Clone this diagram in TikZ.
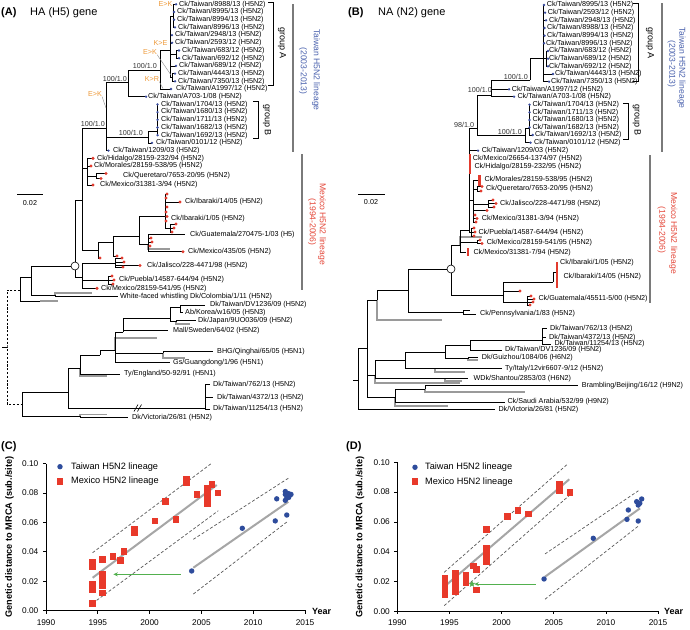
\documentclass[tikz,border=0pt]{standalone}
\usepackage{fontspec}
\setmainfont{Liberation Sans}
\usetikzlibrary{shapes.geometric,arrows.meta}
\definecolor{twblue}{HTML}{3A4C9E}
\definecolor{mxred}{HTML}{E23B2E}
\definecolor{mutor}{HTML}{EE9A3A}
\definecolor{linblue}{HTML}{4A62AE}
\definecolor{linred}{HTML}{E5483A}
\definecolor{grn}{HTML}{52B04E}
\definecolor{barg}{HTML}{7A7A7A}
\definecolor{brg}{HTML}{9A9A9A}
\definecolor{ptblue}{HTML}{2E4C9C}
\definecolor{ptred}{HTML}{E8392A}
\pgfdeclarelayer{back}\pgfdeclarelayer{bg}\pgfdeclarelayer{front}
\pgfsetlayers{back,bg,main,front}
\tikzset{
 br/.style={line width=0.6pt,black},
 gbr/.style={line width=1.2pt,brg},
 lf/.style={anchor=west,inner sep=0pt,font=\fontsize{7.2}{8}\selectfont},
 bs/.style={anchor=east,inner sep=0pt,font=\fontsize{7.2}{8}\selectfont,text=black!80},
 mut/.style={inner sep=0pt,font=\fontsize{7.2}{8}\selectfont,text=mutor},
 ttl/.style={anchor=west,inner sep=0pt,font=\fontsize{11}{13}\selectfont},
 grp/.style={inner sep=0pt,rotate=-90,font=\fontsize{9}{10}\selectfont},
 lin/.style={inner sep=0pt,rotate=-90,font=\fontsize{8.6}{10}\selectfont},
 lbar/.style={line width=1.8pt,barg},
 dsh/.style={line width=0.6pt,dash pattern=on 2.2pt off 1.6pt},
 rbar/.style={line width=2.8pt,mxred},
 axl/.style={line width=0.8pt,black},
 tkl/.style={inner sep=0pt,font=\fontsize{8.3}{10}\selectfont},
 regl/.style={line width=2pt,black!35},
 regd/.style={line width=0.7pt,black!65,dash pattern=on 3pt off 2pt},
 ytl/.style={inner sep=0pt,rotate=90,font=\bfseries\fontsize{9.2}{11}\selectfont},
 leg/.style={anchor=west,inner sep=0pt,font=\fontsize{9.2}{11}\selectfont},
 garr/.style={line width=0.8pt,grn,-{Stealth[length=4.5pt,width=4pt]}},
 ldr/.style={line width=0.4pt,black!45},
}
\newcommand\trI[4]{\coordinate (#2) at (#3,#4);\draw[br] (#1) |- (#2);}
\newcommand\trB[6]{\coordinate (#2) at (#3,#4);\draw[br] (#1) |- (#2);\begin{pgfonlayer}{front}\fill[twblue] (#2) circle (1.3);\end{pgfonlayer}\node[lf] (#2t) at (#5,#4) {#6};}
\newcommand\trR[6]{\coordinate (#2) at (#3,#4);\draw[br] (#1) |- (#2);\begin{pgfonlayer}{front}\fill[mxred] (#2) circle (1.7);\end{pgfonlayer}\node[lf] (#2t) at (#5,#4) {#6};}
\newcommand\trK[6]{\coordinate (#2) at (#3,#4);\draw[br] (#1) |- (#2);\node[lf] (#2t) at (#5,#4) {#6};}
\newcommand\trRd[4]{\coordinate (#2) at (#3,#4);\draw[br] (#1) |- (#2);\begin{pgfonlayer}{front}\fill[mxred] (#2) circle (1.7);\end{pgfonlayer}}
\newcommand\trG[4]{\coordinate (#2) at (#3,#4);\begin{pgfonlayer}{bg}\draw[gbr] (#1) |- (#2);\end{pgfonlayer}}
\newcommand\plsetC{\def\plox{46}\def\ploy{610.7}\def\plsx{10.36}\def\plsy{1472}}
\newcommand\plsetD{\def\plox{397.3}\def\ploy{611.3}\def\plsx{10.43}\def\plsy{1490}}
\newcommand\tpt[2]{\fill[ptblue] ({\plox+\plsx*(#1)},{\ploy-\plsy*(#2)}) circle (2.7);}
\newcommand\msq[2]{\fill[ptred] ({\plox+\plsx*(#1)-3.4},{\ploy-\plsy*(#2)-3.4}) rectangle +(6.8,6.8);}
\newcommand\mtall[3]{\fill[ptred] ({\plox+\plsx*(#1)-3.4},{\ploy-\plsy*(#3)-3.4}) rectangle ({\plox+\plsx*(#1)+3.4},{\ploy-\plsy*(#2)+3.4});}
\newcommand\rl[5]{\draw[#1] ({\plox+\plsx*(#2)},{\ploy-\plsy*(#3)}) -- ({\plox+\plsx*(#4)},{\ploy-\plsy*(#5)});}
\begin{document}
\begin{tikzpicture}[x=1pt,y=-1pt]
\begin{pgfonlayer}{back}
\fill[white] (0,0) rectangle (690,629);
\end{pgfonlayer}
\useasboundingbox (0,0) rectangle (690,629);

% ================= PANEL A =================
\node[ttl,font=\bfseries\fontsize{11}{13}\selectfont] (tA) at (1,13) {(A)};
\node[ttl] (tA2) at (30,13) {HA (H5) gene};

\coordinate (aP) at (82,200);
\trI{aP}{aT}{106}{128}
\trI{aT}{aGA0}{128}{82}
\trI{aGA0}{aGA1}{160}{70}
\trB{aGA0}{aL703}{146}{96.7}{148}{Ck/Taiwan/A703-1/08 (H5N2)}
\trI{aGA1}{aGA2}{170}{50}
\trB{aGA1}{aL1997}{171}{89}{176}{Ck/Taiwan/A1997/12 (H5N2)}
\trI{aGA2}{aGA3}{173}{16}
\trB{aGA3}{aL8988}{176}{4.3}{179}{Ck/Taiwan/8988/13 (H5N2)}
\trB{aGA3}{aL8995}{174}{12}{177}{Ck/Taiwan/8995/13 (H5N2)}
\trB{aGA3}{aL8994}{174}{19.7}{177}{Ck/Taiwan/8994/13 (H5N2)}
\trB{aGA3}{aL8996}{175}{27.4}{178}{Ck/Taiwan/8996/13 (H5N2)}
\trB{aGA2}{aL2948}{172}{35.1}{175}{Ck/Taiwan/2948/13 (H5N2)}
\trB{aGA2}{aL2593}{172}{42.8}{175}{Ck/Taiwan/2593/12 (H5N2)}
\trI{aGA2}{aGA5}{176.5}{54}
\trB{aGA5}{aL683}{179}{50.5}{182}{Ck/Taiwan/683/12 (H5N2)}
\trB{aGA5}{aL692}{179}{58.2}{182}{Ck/Taiwan/692/12 (H5N2)}
\trB{aGA2}{aL689}{176}{65.9}{179}{Ck/Taiwan/689/12 (H5N2)}
\trI{aGA2}{aGA6}{172.5}{77}
\trB{aGA6}{aL4443}{175}{73.6}{178}{Ck/Taiwan/4443/13 (H5N2)}
\trB{aGA6}{aL7350}{175}{81.3}{178}{Ck/Taiwan/7350/13 (H5N2)}
\trI{aT}{aGB0}{148}{137}
\trI{aGB0}{aGB1}{157}{131}
\trB{aGB1}{aL1704}{157.5}{104.4}{161}{Ck/Taiwan/1704/13 (H5N2)}
\trB{aGB1}{aL1680}{157.5}{112.1}{161}{Ck/Taiwan/1680/13 (H5N2)}
\trB{aGB1}{aL1711}{157.5}{119.8}{161}{Ck/Taiwan/1711/13 (H5N2)}
\trB{aGB1}{aL1682}{157.5}{127.5}{161}{Ck/Taiwan/1682/13 (H5N2)}
\trB{aGB1}{aL1692}{157.5}{135.2}{161}{Ck/Taiwan/1692/13 (H5N2)}
\trB{aGB0}{aL0101}{152}{142.9}{156}{Ck/Taiwan/0101/12 (H5N2)}
\trB{aT}{aL1209}{108.5}{150.6}{113}{Ck/Taiwan/1209/03 (H5N2)}

% support values and mutations
\node[bs] (aS1) at (105,124) {100/1.0};
\node[bs] (aS2) at (143,133) {100/1.0};
\node[bs] (aS3) at (127,79) {100/1.0};
\node[bs] (aS4) at (157,66) {100/1.0};
\node[mut] (aM1k) at (165.5,4) {E>K};
\node[mut] (aM2k) at (160.5,42.7) {K>E};
\node[mut] (aM3k) at (150,52) {E>K};
\node[mut] (aM4k) at (152,79) {K>R};
\node[mut] (aM5k) at (95,94) {E>K};
\coordinate (aM3p) at (171,75);
\coordinate (aM4p) at (163,88.5);
\coordinate (aM5p) at (106,108);
\draw[ldr] (aM3k.south east) -- (aM3p);
\draw[ldr] (aM4k.south east) -- (aM4p);
\draw[ldr] (aM5k.south east) -- (aM5p);

% Mexico lineage A
\coordinate (aC) at (75,266);
\draw[br] (aC) |- (aP);
\trI{aP}{aM1}{87}{168}
\trR{aM1}{aLHid}{93}{158.3}{97}{Ck/Hidalgo/28159-232/94 (H5N2)}
\trR{aM1}{aLMor}{91}{166}{94}{Ck/Morales/28159-538/95 (H5N2)}
\trI{aM1}{aQ}{96}{176}
\trRd{aQ}{aQd1}{106}{173.5}
\trRd{aQ}{aQd2}{101}{178.5}
\node[lf] (aLQue) at (123,175.7) {Ck/Queretaro/7653-20/95 (H5N2)};
\trR{aM1}{aL3138}{93}{185}{100}{Ck/Mexico/31381-3/94 (H5N2)}
\trI{aP}{aIB0}{98}{250}
\trRd{aIB0}{aIBd1}{100}{258}
\trI{aIB0}{aIB1}{113}{242}
\trRd{aIB1}{aIBd2}{117}{256}
\trI{aIB1}{aIB2}{139}{236}
\trI{aIB2}{aIB3}{165}{216}
\trRd{aIB3}{aIBd3}{167}{194}
\trRd{aIB3}{aIBd4}{166}{198}
\trRd{aIB3}{aIBd5}{167}{207}
\trR{aIB3}{aLIb14}{180}{202}{185}{Ck/Ibaraki/14/05 (H5N2)}
\trRd{aIB3}{aIBd6}{166}{212}
\trRd{aIB3}{aIBd7}{167}{216.5}
\node[lf] (aLIb1) at (171,218.3) {Ck/Ibaraki/1/05 (H5N2)};
\trRd{aIB3}{aIBd8}{166}{221}
\trI{aIB3}{aIB4}{170}{228}
\trRd{aIB4}{aIBd9}{176}{224}
\trRd{aIB4}{aIBd10}{174}{228}
\trRd{aIB4}{aIBd11}{172}{232}
\trI{aIB2}{aGU}{148}{244}
\trRd{aGU}{aGUd1}{151}{238}
\trRd{aGU}{aGUd2}{152}{242}
\trRd{aGU}{aGUd3}{150}{246}
\trK{aGU}{aLGua}{185}{234.3}{190}{Ck/Guatemala/270475-1/03 (H5)}
\trR{aGU}{aLM435}{183}{251.7}{188}{Ck/Mexico/435/05 (H5N2)}
\trG{aGU}{aGUg}{170}{249}
\trI{aC}{aJ}{82}{277}
\trI{aJ}{aJ1}{115}{263}
\trRd{aJ1}{aJd1}{122}{258}
\trRd{aJ1}{aJd2}{124}{262}
\trRd{aJ1}{aJd3}{123}{267}
\trR{aJ1}{aLJal}{140}{265.5}{147}{Ck/Jalisco/228-4471/98 (H5N2)}
\trI{aJ}{aPu}{108}{280}
\trRd{aPu}{aPud1}{112}{276}
\trRd{aPu}{aPud2}{114}{280}
\trRd{aPu}{aPud3}{113}{284}
\node[lf] (aLPue) at (119,279.3) {Ck/Puebla/14587-644/94 (H5N2)};
\trR{aJ}{aL541}{97}{288.3}{101}{Ck/Mexico/28159-541/95 (H5N2)}

% White-faced and root
\coordinate (aU) at (20,290);
\trI{aU}{aW1}{31}{277}
\draw[br] (aW1) |- (aC);
\trI{aW1}{aWF}{55}{295}
\trG{aWF}{aWFg}{92}{293}
\trK{aWF}{aLWF}{118}{296.5}{120}{White-faced whistling Dk/Colombia/1/11 (H5N2)}
\trI{aU}{aUb}{40}{301}
\trG{aUb}{aUg}{58}{301}
\coordinate (aR) at (7,347);
\coordinate (aL) at (22,404);
\draw[dsh] (aU) -| (aR) |- (aL);
\draw[br] (aR) -- ++(-5,0);

% Eurasian A
\trI{aL}{aE0}{68}{392}
\trI{aE0}{aE1}{80}{368}
\trI{aE1}{aE2}{100}{355}
\trI{aE2}{aE3}{115}{350}
\trI{aE3}{aE4}{123}{332}
\trI{aE4}{aK0}{170}{318}
\trI{aK0}{aK1}{180}{307}
\trK{aK1}{aLDV}{205}{305}{210}{Dk/Taiwan/DV1236/09 (H5N2)}
\trK{aK1}{aLKor}{183}{312.7}{185}{Ab/Korea/w16/05 (H5N3)}
\trI{aK0}{aK2}{176}{321}
\trK{aK2}{aLJap}{196}{320.7}{198}{Dk/Japan/9UO036/09 (H5N2)}
\trG{aK2}{aK2g}{190}{324}
\trK{aE4}{aLSwe}{168}{330.7}{173}{Mall/Sweden/64/02 (H5N2)}
\trG{aE3}{aE3g}{157}{338}
\trI{aE3}{aBH}{163}{353}
\trK{aBH}{aLBHG}{213}{351.7}{217}{BHG/Qinghai/65/05 (H5N1)}
\trG{aBH}{aBHg}{185}{358}
\trI{aE3}{aGs}{163}{362}
\trK{aGs}{aLGs}{170}{362.3}{173}{Gs/Guangdong/1/96 (H5N1)}
\trK{aE1}{aLTy}{120}{374}{124}{Ty/England/50-92/91 (H5N1)}
\trG{aE1}{aE1g}{107}{376}
\trI{aE0}{aTW}{205}{408}
\trK{aTW}{aL762}{210}{384.3}{213}{Dk/Taiwan/762/13 (H5N2)}
\trK{aTW}{aL4372}{213}{397.3}{217}{Dk/Taiwan/4372/13 (H5N2)}
\trK{aTW}{aL11254}{210}{409}{213}{Dk/Taiwan/11254/13 (H5N2)}
\trI{aL}{aV0}{80}{416}
\trK{aV0}{aLVic}{128}{417.3}{132}{Dk/Victoria/26/81 (H5N2)}
\trG{aV0}{aV0g}{107}{414.5}
\draw[br] (134,411.5) -- (138,404.5) (137.5,411.5) -- (141.5,404.5);

\begin{pgfonlayer}{front}
\draw[br,fill=white] (aC) circle (4);
\end{pgfonlayer}

% scale bar A
\draw[br] (17,194) -- (43,194);
\node[lf,anchor=center] (aSc) at (30,203) {0.02};

% brackets and lineage bars A
\draw[br] (268,2) -- (273,2) -- (273,85) -- (268,85);
\node[grp] (aGrA) at (282,43) {group A};
\draw[br] (253,101.7) -- (258,101.7) -- (258,138) -- (253,138);
\node[grp] (aGrB) at (267,120) {group B};
\draw[lbar] (293,4) -- (293,152);
\draw[lbar] (302,154) -- (302,290);
\node[lin,text=linblue] (aLinT1) at (316,70) {Taiwan H5N2 lineage};
\node[lin,text=linblue] (aLinT2) at (303,71) {(2003-2013)};
\node[lin,text=linred] (aLinM1) at (322,224) {Mexico H5N2 lineage};
\node[lin,text=linred] (aLinM2) at (312,222) {(1994-2006)};

% ================= PANEL B =================
\node[ttl,font=\bfseries\fontsize{11}{13}\selectfont] (tB) at (348,13) {(B)};
\node[ttl] (tB2) at (378,13) {NA (N2) gene};

\coordinate (bRB) at (358,380);
\draw[br] (bRB) -- ++(-5,0);
\trI{bRB}{bN1}{367}{348}
\trK{bRB}{bLVic}{495}{409.3}{498.3}{Dk/Victoria/26/81 (H5N2)}
\trI{bN1}{bN2}{377}{300}
\trI{bN2}{bPN}{408}{290}
\trG{bN2}{bN2g}{442}{320}
\coordinate (bC) at (451,269);
\draw[br] (bPN) |- (bC);
\trI{bPN}{bPe}{463}{312}
\trI{bPe}{bPe1}{470}{310.5}
\trK{bPe}{bLPen}{476}{314}{480}{Ck/Pennsylvania/1/83 (H5N2)}

% Mexico + Taiwan B
\trI{bC}{bMB1}{460}{245}
\trI{bMB1}{bMT}{469}{230}
\trI{bMT}{bTB1}{477}{128}
\trI{bTB1}{bTA}{491.7}{95}
\trI{bTA}{bGAB}{530}{80}
\trI{bGAB}{bGA2}{543}{58}
\trB{bGA2}{bL8995}{544}{5}{546.7}{Ck/Taiwan/8995/13 (H5N2)}
\trB{bGA2}{bL2593}{545}{12.7}{547.7}{Ck/Taiwan/2593/12 (H5N2)}
\trB{bGA2}{bL2948}{546}{20.3}{549}{Ck/Taiwan/2948/13 (H5N2)}
\trB{bGA2}{bL8988}{544.5}{28}{547}{Ck/Taiwan/8988/13 (H5N2)}
\trB{bGA2}{bL8994}{544.5}{35.7}{547}{Ck/Taiwan/8994/13 (H5N2)}
\trB{bGA2}{bL8996}{544}{43.3}{546}{Ck/Taiwan/8996/13 (H5N2)}
\trI{bGA2}{bGA7}{546}{58.7}
\trB{bGA7}{bL683}{548}{51}{549}{Ck/Taiwan/683/12 (H5N2)}
\trB{bGA7}{bL689}{548}{58.7}{549}{Ck/Taiwan/689/12 (H5N2)}
\trB{bGA7}{bL692}{548}{66.3}{549}{Ck/Taiwan/692/12 (H5N2)}
\trB{bGA2}{bL4443}{553}{74}{555}{Ck/Taiwan/4443/13 (H5N2)}
\trB{bGA2}{bL7350}{549}{81.7}{551}{Ck/Taiwan/7350/13 (H5N2)}
\trB{bTA}{bL1997}{509}{89.3}{511.7}{Ck/Taiwan/A1997/12 (H5N2)}
\trB{bTA}{bL703}{514}{96.7}{517.3}{Ck/Taiwan/A703-1/08 (H5N2)}
\trI{bTB1}{bGBB}{525}{135}
\trI{bGBB}{bGB1}{529}{128}
\trB{bGB1}{bL1704}{529.5}{104.7}{532.3}{Ck/Taiwan/1704/13 (H5N2)}
\trB{bGB1}{bL1711}{529.5}{112.3}{532.3}{Ck/Taiwan/1711/13 (H5N2)}
\trB{bGB1}{bL1680}{529.5}{120}{532.3}{Ck/Taiwan/1680/13 (H5N2)}
\trB{bGB1}{bL1682}{529.5}{127.3}{532.3}{Ck/Taiwan/1682/13 (H5N2)}
\trB{bGB1}{bL1692}{532.7}{135}{535}{Ck/Taiwan/1692/13 (H5N2)}
\trB{bGBB}{bL0101}{530.5}{142.7}{534}{Ck/Taiwan/0101/12 (H5N2)}
\trB{bMT}{bL1209}{478}{150.7}{481.7}{Ck/Taiwan/1209/03 (H5N2)}
\node[bs] (bS1) at (528,77) {100/1.0};
\node[bs] (bS2) at (492,90) {100/1.0};
\node[bs] (bS3) at (522,131.7) {100/1.0};
\node[bs] (bS4) at (474.3,125) {98/1.0};

\draw[rbar] (470,154) -- (470,174);
\node[lf] (bLMx26) at (472.7,158.3) {Ck/Mexico/26654-1374/97 (H5N2)};
\node[lf] (bLHid) at (474.3,166.7) {Ck/Hidalgo/28159-232/95 (H5N2)};
\trI{bMT}{bMB3}{473}{200}
\trI{bMB3}{bMo}{478}{180}
\draw[rbar] (479.5,175) -- (479.5,186);
\node[lf] (bLMor) at (484.3,179.3) {Ck/Morales/28159-538/95 (H5N2)};
\trI{bMB3}{bQu}{477}{189}
\trRd{bQu}{bQu1}{482}{186.5}
\trRd{bQu}{bQu2}{481}{191}
\node[lf] (bLQue) at (486,188.3) {Ck/Queretaro/7653-20/95 (H5N2)};
\trI{bMB3}{bJa}{488}{204}
\trRd{bJa}{bJa1}{493}{200}
\trRd{bJa}{bJa2}{496}{203.5}
\trRd{bJa}{bJa3}{494}{207}
\trRd{bMB3}{bJa4}{487}{210.5}
\node[lf] (bLJal) at (500,204) {Ck/Jalisco/228-4471/98 (H5N2)};
\trRd{bMB3}{bM3a}{475}{215}
\trRd{bMB3}{bM3b}{477}{218.5}
\trRd{bMB3}{bM3c}{476}{222}
\node[lf] (bLM3) at (481.7,218.3) {Ck/Mexico/31381-3/94 (H5N2)};
\trI{bMT}{bPu}{471}{232}
\trRd{bPu}{bPu1}{474}{228}
\trRd{bPu}{bPu2}{475}{232}
\trRd{bPu}{bPu3}{474}{236}
\node[lf] (bLPue) at (478.3,232.7) {Ck/Puebla/14587-644/94 (H5N2)};
\trG{bMB1}{bMBg}{482}{237}
\trI{bMB1}{b541}{477}{242}
\trRd{b541}{b541a}{480}{240}
\trRd{b541}{b541b}{482}{243.5}
\node[lf] (bL541) at (486.7,242.3) {Ck/Mexico/28159-541/95 (H5N2)};
\trI{bMB1}{b317}{466}{252}
\draw[rbar] (468,248) -- (468,256);
\node[lf] (bL317) at (473.3,252.7) {Ck/Mexico/31381-7/94 (H5N2)};

\trI{bC}{bMB5}{503}{295}
\trI{bMB5}{bIB}{553}{282}
\trI{bIB}{bIB1}{557}{272}
\draw[rbar] (557,262) -- (557,288);
\node[lf] (bLIb1) at (560,262.7) {Ck/Ibaraki/1/05 (H5N2)};
\node[lf] (bLIb14) at (563.3,276.7) {Ck/Ibaraki/14/05 (H5N2)};
\trRd{bMB5}{bMd}{520}{291}
\trI{bMB5}{bGU}{527}{302}
\trRd{bGU}{bGU1}{531}{296}
\trRd{bGU}{bGU2}{534}{299}
\trRd{bGU}{bGU3}{533}{302}
\trRd{bGU}{bGU4}{530}{305}
\node[lf] (bLGua) at (538.3,298.3) {Ck/Guatemala/45511-5/00 (H5N2)};

\begin{pgfonlayer}{front}
\draw[br,fill=white] (bC) circle (4);
\end{pgfonlayer}

% Eurasian B
\trI{bN1}{bEU}{375}{375}
\trI{bEU}{bE1}{405}{360}
\trI{bE1}{bE2}{445}{352}
\trI{bE2}{bE3}{470}{345}
\trI{bE3}{bDV}{542}{340}
\trK{bDV}{bL762}{547}{328.3}{550}{Dk/Taiwan/762/13 (H5N2)}
\trK{bDV}{bL4372}{546}{337.7}{549}{Dk/Taiwan/4372/13 (H5N2)}
\trK{bDV}{bL11254}{551}{344}{554.3}{Dk/Taiwan/11254/13 (H5N2)}
\trK{bE3}{bLDV}{502}{350}{505}{Dk/Taiwan/DV1236/09 (H5N2)}
\trI{bE2}{bGZ}{468}{358}
\trK{bGZ}{bLGz}{478}{357.7}{481.7}{Dk/Guizhou/1084/06 (H6N2)}
\trG{bGZ}{bGZg}{478}{360}
\trI{bE1}{bIT}{435}{368}
\trK{bIT}{bLIt}{502}{368.3}{505}{Ty/Italy/12vir6607-9/12 (H5N2)}
\trG{bIT}{bITg}{465}{372}
\trI{bEU}{bWD}{445}{378}
\trK{bWD}{bLWD}{468}{378.3}{473.3}{WDk/Shantou/2853/03 (H6N2)}
\trG{bWD}{bWDg}{462}{381}
\trG{bEU}{bEUg}{460}{383}
\trI{bN1}{bBS}{395}{397}
\trI{bBS}{bBR}{425}{389}
\trK{bBR}{bLBr}{578}{385.7}{581.7}{Brambling/Beijing/16/12 (H9N2)}
\trG{bBR}{bBRg}{525}{392}
\trI{bBS}{bSA}{452}{401.8}
\trK{bSA}{bLSa}{505}{401.8}{507.3}{Ck/Saudi Arabia/532/99 (H9N2)}
\trG{bBS}{bBSg}{448}{406}

% scale bar B
\draw[br] (358,194) -- (385,194);
\node[lf,anchor=center] (bSc) at (371,201.7) {0.02};

% brackets and lineage bars B
\draw[br] (633,3) -- (638.3,3) -- (638.3,81) -- (633,81);
\node[grp] (bGrA) at (650,43) {group A};
\draw[br] (623,103) -- (628.3,103) -- (628.3,139) -- (623,139);
\node[grp] (bGrB) at (636.7,120) {group B};
\draw[lbar] (661.7,3) -- (661.7,152);
\draw[lbar] (650,155) -- (650,303);
\node[lin,text=linblue] (bLinT1) at (681.7,68) {Taiwan H5N2 lineage};
\node[lin,text=linblue] (bLinT2) at (671.7,64) {(2003-2013)};
\node[lin,text=linred] (bLinM1) at (673.3,233) {Mexico H5N2 lineage};
\node[lin,text=linred] (bLinM2) at (661.7,230) {(1994-2006)};

% ================= PANEL C =================
\node[ttl,font=\bfseries\fontsize{11}{13}\selectfont] (tC) at (1,447) {(C)};
\draw[axl] (46,463.5) -- (46,610.7) -- (306,610.7);
\foreach \i/\l in {0/0.00,1/0.02,2/0.04,3/0.06,4/0.08,5/0.10}{
  \draw[axl] (46,{610.7-29.44*\i}) -- ++(-3,0);
  \node[tkl,anchor=east] (cyl\i) at (38.5,{610.7-29.44*\i}) {\l};}
\foreach \i in {0,...,5}{
  \pgfmathtruncatemacro\yr{1990+5*\i}
  \draw[axl] ({46+51.8*\i},610.7) -- ++(0,3);
  \node[tkl] (cxl\i) at ({46+51.8*\i},622.7) {\yr};}
\node[inner sep=0pt,anchor=west,font=\bfseries\fontsize{9}{11}\selectfont] (cYr) at (312,611) {Year};
\node[ytl] (cYt) at (9.5,537) {Genetic distance to MRCA (sub./site)};
\fill[ptblue] (60,466.7) circle (2.7);
\node[leg] (cLg1) at (71,466.7) {Taiwan H5N2 lineage};
\fill[ptred] (56.6,477.9) rectangle +(6.8,6.8);
\node[leg] (cLg2) at (71,481.5) {Mexico H5N2 lineage};
\plsetC
\rl{regl}{4.5}{0.0224}{16.48}{0.0854}
\rl{regd}{4.5}{0.0394}{15.9}{0.0997}
\rl{regd}{4.5}{0.005}{16.63}{0.0679}
\rl{regl}{14.22}{0.0292}{23.39}{0.074}
\rl{regd}{14.22}{0.0485}{23.39}{0.09}
\rl{regd}{14.22}{0.0113}{23.29}{0.0605}
\msq{4.47}{0.005}
\mtall{4.47}{0.014}{0.018}
\mtall{4.47}{0.030}{0.033}
\msq{5.47}{0.012}
\mtall{5.47}{0.017}{0.025}
\msq{5.47}{0.035}
\msq{6.47}{0.037}
\msq{7.21}{0.034}
\msq{7.53}{0.040}
\mtall{8.52}{0.053}{0.055}
\msq{10.52}{0.061}
\msq{11.55}{0.074}
\msq{12.55}{0.062}
\mtall{13.58}{0.087}{0.089}
\msq{14.58}{0.079}
\mtall{15.57}{0.073}{0.083}
\msq{16.02}{0.086}
\msq{16.6}{0.080}
\tpt{14.06}{0.027}
\tpt{18.95}{0.056}
\tpt{22.13}{0.061}
\tpt{22.27}{0.076}
\tpt{23.1}{0.081}\tpt{23.1}{0.079}\tpt{23.1}{0.075}
\tpt{23.24}{0.065}\tpt{23.24}{0.0765}
\tpt{23.43}{0.077}\tpt{23.43}{0.0795}
\tpt{23.65}{0.079}
\coordinate (gCa) at ({\plox+\plsx*13.03},{\ploy-\plsy*0.0247});
\coordinate (gCb) at ({\plox+\plsx*6.5},{\ploy-\plsy*0.0247});
\draw[garr] (gCa) -- (gCb);

% ================= PANEL D =================
\node[ttl,font=\bfseries\fontsize{11}{13}\selectfont] (tD) at (346,447) {(D)};
\draw[axl] (397.3,462) -- (397.3,611.3) -- (659,611.3);
\foreach \i/\l in {0/0.00,1/0.02,2/0.04,3/0.06,4/0.08,5/0.10}{
  \draw[axl] (397.3,{611.3-29.8*\i}) -- ++(-3,0);
  \node[tkl,anchor=east] (dyl\i) at (390,{611.3-29.8*\i}) {\l};}
\foreach \i in {0,...,5}{
  \pgfmathtruncatemacro\yr{1990+5*\i}
  \draw[axl] ({397.3+52.15*\i},611.3) -- ++(0,3);
  \node[tkl] (dxl\i) at ({397.3+52.15*\i},622.7) {\yr};}
\node[inner sep=0pt,anchor=west,font=\bfseries\fontsize{9}{11}\selectfont] (dYr) at (664,611) {Year};
\node[ytl] (dYt) at (360,537) {Genetic distance to MRCA (sub./site)};
\fill[ptblue] (415,467.3) circle (2.7);
\node[leg] (dLg1) at (425,467.3) {Taiwan H5N2 lineage};
\fill[ptred] (411.6,478.3) rectangle +(6.8,6.8);
\node[leg] (dLg2) at (425,481.7) {Mexico H5N2 lineage};
\plsetD
\rl{regl}{4.5}{0.0165}{16.49}{0.0886}
\rl{regd}{4.5}{0.0262}{16.34}{0.0989}
\rl{regd}{4.5}{0.0038}{16.72}{0.0792}
\rl{regl}{14.16}{0.0232}{23.27}{0.0691}
\rl{regd}{14.16}{0.0385}{23.11}{0.0809}
\rl{regd}{14.16}{0.0081}{23.11}{0.0572}
\mtall{4.57}{0.011}{0.022}
\mtall{5.6}{0.0135}{0.0255}
\mtall{6.59}{0.019}{0.0244}
\msq{7.29}{0.0304}
\msq{7.61}{0.0282}
\msq{7.61}{0.0143}
\mtall{8.57}{0.0333}{0.0423}
\msq{8.57}{0.055}
\msq{10.58}{0.0635}
\msq{11.57}{0.0675}
\msq{12.56}{0.0653}
\mtall{15.53}{0.081}{0.0854}
\msq{16.56}{0.080}
\tpt{14.07}{0.0217}
\tpt{18.79}{0.049}
\tpt{22.02}{0.0617}
\tpt{22.15}{0.068}
\tpt{22.95}{0.0736}\tpt{23.1}{0.0713}\tpt{23.25}{0.0725}\tpt{23.43}{0.0754}\tpt{23.1}{0.0606}
\node[star,star points=5,star point ratio=2.3,fill=grn,inner sep=0pt,minimum size=7pt] (gDs) at ({\plox+\plsx*7.16},{\ploy-\plsy*0.0183}) {};
\coordinate (gDa) at ({\plox+\plsx*13.27},{\ploy-\plsy*0.0183});
\draw[garr] (gDa) -- (gDs);
\end{tikzpicture}
\end{document}
